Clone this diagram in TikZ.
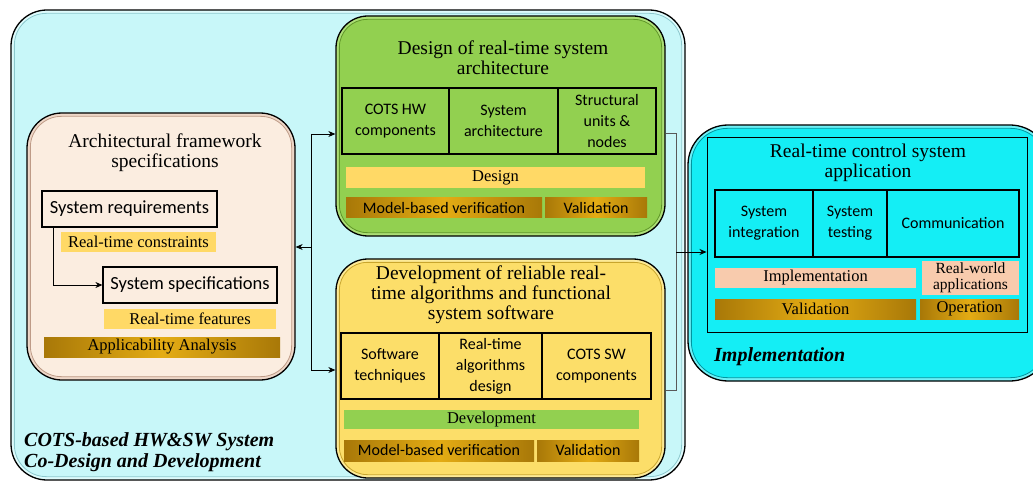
\documentclass[tikz,border=0pt]{standalone}
\usepackage{fontspec}
\setmainfont{Liberation Serif}
\newfontfamily\cellfont{Carlito}
\usetikzlibrary{arrows.meta}

\definecolor{bgfill}{RGB}{200,247,249}
\definecolor{bgband}{RGB}{222,251,252}
\definecolor{bgline}{RGB}{140,200,205}
\definecolor{grnfill}{RGB}{146,208,80}
\definecolor{grnband}{RGB}{172,222,118}
\definecolor{grnline}{RGB}{95,150,40}
\definecolor{yelfill}{RGB}{252,222,105}
\definecolor{yelband}{RGB}{253,234,150}
\definecolor{yelline}{RGB}{200,165,45}
\definecolor{begfill}{RGB}{251,237,224}
\definecolor{begband}{RGB}{238,215,200}
\definecolor{begline}{RGB}{190,155,135}
\definecolor{cynfill}{RGB}{20,238,245}
\definecolor{cynband}{RGB}{110,240,246}
\definecolor{cynline}{RGB}{0,150,160}
\definecolor{barlight}{RGB}{255,217,102}
\definecolor{barpink}{RGB}{248,203,173}
\definecolor{bargreen}{RGB}{146,208,80}
\definecolor{golddark}{RGB}{168,120,8}
\definecolor{goldlight}{RGB}{228,172,20}

% inner bevel of a rounded panel: name, inset, radius, fill, line colour
\newcommand\innerbevel[5]{%
  \draw[fill=#4, draw=#5, line width=0.8pt, rounded corners=#3]
    ([shift={(#2,-#2)}]#1.north west) rectangle ([shift={(-#2,#2)}]#1.south east);}

\begin{document}
\begin{tikzpicture}[x=1pt,y=-1pt,
  panel/.style={draw=black, line width=1.3pt, inner sep=0, anchor=center},
  ttl/.style={font=\fontsize{19.5}{20}\selectfont, align=center, inner sep=0},
  cell/.style={draw=black, line width=1.2pt, inner sep=0, anchor=center,
    font=\cellfont\fontsize{16}{21}\selectfont, align=center},
  bigcell/.style={cell, font=\cellfont\fontsize{18.5}{21}\selectfont},
  bar/.style={inner sep=0, anchor=center, font=\fontsize{16.5}{16}\selectfont, align=center},
  barsans/.style={bar, font=\cellfont\fontsize{16}{16}\selectfont},
  goldbar/.style={left color=golddark, right color=golddark, middle color=goldlight},
  link/.style={draw=black, line width=0.8pt},
  linkgray/.style={draw=black!65, line width=0.8pt},
  tip/.style={-{Stealth[length=7pt,width=6pt]}},
  caption/.style={font=\fontsize{20}{21}\selectfont\bfseries\itshape, align=left, inner sep=0, anchor=west}
]
\useasboundingbox (0,0) rectangle (1033,481);

% ---- outer co-design region
\node[panel, fill=bgband, rounded corners=36pt, minimum width=674pt, minimum height=470pt] (codesign) at (348,245) {};
\innerbevel{codesign}{4pt}{32pt}{bgfill}{bgline}

% ---- architectural framework panel
\node[panel, fill=begband, rounded corners=35pt, minimum width=268pt, minimum height=267pt] (arch) at (161,246.5) {};
\innerbevel{arch}{4pt}{31pt}{begfill}{begline}
\node[ttl] (archttl) at (165,153) {Architectural framework\\specifications};
\node[bigcell, minimum width=175pt, minimum height=36pt] (sysreq) at (129.5,209) {System requirements};
\node[bar, fill=barlight, minimum width=155pt, minimum height=20pt] (rtc) at (138.5,242) {Real-time constraints};
\node[bigcell, minimum width=174pt, minimum height=36pt] (sysspec) at (190,285) {System specifications};
\node[bar, fill=barlight, minimum width=172pt, minimum height=20pt] (rtf) at (190,319) {Real-time features};
\node[bar, goldbar, minimum width=236pt, minimum height=20pt] (appl) at (162,347) {Applicability Analysis};
\draw[link, tip] ([xshift=12pt]sysreq.south west) |- (sysspec.west);

% ---- design panel
\node[panel, fill=grnband, rounded corners=32pt, minimum width=329pt, minimum height=220pt] (design) at (500.5,126) {};
\innerbevel{design}{4pt}{28pt}{grnfill}{grnline}
\node[ttl] (designttl) at (503,58) {Design of real-time system\\architecture};
\node[cell, minimum width=107pt, minimum height=66pt] (cotshw) at (395.5,121) {COTS HW\\components};
\node[cell, minimum width=109pt, minimum height=66pt] (sysarch) at (503.5,121) {System\\architecture};
\node[cell, minimum width=98pt, minimum height=66pt] (units) at (607,121) {Structural\\units \&\\nodes};
\node[bar, fill=barlight, minimum width=299pt, minimum height=21pt] (dsgbar) at (495.5,177.5) {Design};
\node[barsans, goldbar, minimum width=196pt, minimum height=20pt] (dsgmbv) at (444,208) {Model-based verification};
\node[barsans, goldbar, minimum width=102pt, minimum height=20pt] (dsgval) at (596,208) {Validation};

% ---- development panel
\node[panel, fill=yelband, rounded corners=32pt, minimum width=329pt, minimum height=219pt] (devel) at (500.5,368.5) {};
\innerbevel{devel}{4pt}{28pt}{yelfill}{yelline}
\node[ttl] (develttl) at (491,295) {Development of reliable real-\\time algorithms and functional\\system software};
\node[cell, minimum width=98pt, minimum height=66pt] (swtech) at (390,366) {Software\\techniques};
\node[cell, minimum width=103pt, minimum height=66pt] (rtalg) at (490.5,366) {Real-time\\algorithms\\design};
\node[cell, minimum width=109pt, minimum height=66pt] (cotssw) at (596.5,366) {COTS SW\\components};
\node[bar, fill=bargreen, minimum width=295pt, minimum height=19pt] (devbar) at (491.5,419.5) {Development};
\node[barsans, goldbar, minimum width=190pt, minimum height=21pt] (devmbv) at (439,450.5) {Model-based verification};
\node[barsans, goldbar, minimum width=102pt, minimum height=21pt] (devval) at (588,450.5) {Validation};

\node[caption] (cdcap) at (24,452.5) {COTS-based HW\&SW System\\Co-Design and Development};

% ---- implementation panel (runs off the right edge)
\node[panel, fill=cynband, rounded corners=40pt, minimum width=362pt, minimum height=256pt] (impl) at (869,253) {};
\innerbevel{impl}{4pt}{36pt}{cynfill}{cynline}
\node[draw=black, line width=1pt, inner sep=0, minimum width=320pt, minimum height=194pt, anchor=center] (app) at (867,235) {};
\node[ttl] (appttl) at (868,163) {Real-time control system\\application};
\node[cell, minimum width=98pt, minimum height=67pt] (sysint) at (764,223.5) {System\\integration};
\node[cell, minimum width=74pt, minimum height=67pt] (systest) at (850,223.5) {System\\testing};
\node[cell, minimum width=132pt, minimum height=67pt] (comm) at (953,223.5) {Communication};
\node[bar, fill=barpink, minimum width=201pt, minimum height=20pt] (implbar) at (815.5,278) {Implementation};
\node[bar, fill=barpink, minimum width=97pt, minimum height=34pt, font=\fontsize{15.5}{16}\selectfont] (rwa) at (970.5,278) {Real-world\\applications};
\node[bar, goldbar, minimum width=201pt, minimum height=20pt] (implval) at (815.5,309) {Validation};
\node[bar, goldbar, minimum width=99pt, minimum height=20pt] (oper) at (969.5,309) {Operation};
\node[caption] (implcap) at (714,357) {Implementation};

% ---- connectors on the left
\coordinate (spt) at (311,134);
\coordinate (spm) at (311,247);
\coordinate (spb) at (311,370);
\draw[link] (spt) -- (spb);
\draw[link, tip] (spt) -- (spt -| design.west);
\draw[link, tip] (spb) -- (spb -| devel.west);
\draw[link, tip] (spm) -- (spm -| arch.east);

% ---- connectors on the right
\coordinate (rjt) at (676,133);
\coordinate (rjm) at (676,252);
\coordinate (rjb) at (676,390);
\draw[linkgray] (design.east |- rjt) -- (rjt) -- (rjb) -- (devel.east |- rjb);
\draw[link, tip] (rjm) -- (rjm -| app.west);
\end{tikzpicture}
\end{document}
